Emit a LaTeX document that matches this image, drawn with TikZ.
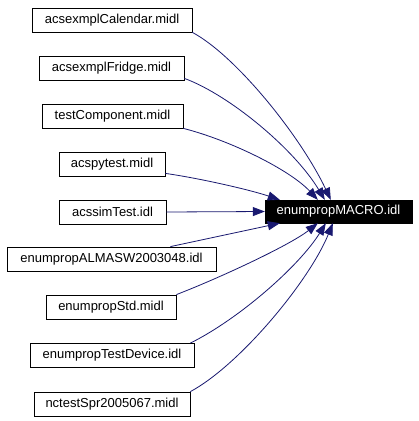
\documentclass[tikz,border=0pt]{standalone}
\usepackage{fontspec}
\setmainfont{Liberation Sans}
\usetikzlibrary{arrows.meta,calc}
\definecolor{edgeblue}{HTML}{191970}
\begin{document}
\begin{tikzpicture}[x=1pt,y=-1pt,
  src/.style={draw=black, line width=0.8pt, rectangle, minimum height=24pt, inner sep=0pt,
    font=\fontsize{13}{15}\selectfont, text=black},
  tgt/.style={draw=black, fill=black, rectangle, minimum height=23pt, inner sep=0pt,
    font=\fontsize{13}{15}\selectfont, text=white},
  edge/.style={draw=edgeblue, line width=0.8pt, -{Triangle[length=12pt,width=9pt]}}]
\useasboundingbox (0,0) rectangle (419,421);
\fill[white] (0,0) rectangle (419,421);

\node[src, minimum width=160pt] (cal) at (112,20) {acsexmplCalendar.midl};
\node[src, minimum width=145pt] (fr) at (111.5,68) {acsexmplFridge.midl};
\node[src, minimum width=141pt] (tc) at (112.5,116) {testComponent.midl};
\node[src, minimum width=106pt] (sp) at (112,164) {acspytest.midl};
\node[src, minimum width=107pt] (ss) at (112.5,212) {acssimTest.idl};
\node[src, minimum width=209pt] (al) at (111.5,259) {enumpropALMASW2003048.idl};
\node[src, minimum width=130pt] (st) at (111,307) {enumpropStd.midl};
\node[src, minimum width=164pt] (td) at (112,355.5) {enumpropTestDevice.idl};
\node[src, minimum width=156pt] (nc) at (112,404) {nctestSpr2005067.midl};
\node[tgt, minimum width=147pt] (t) at (338.5,211.5) {enumpropMACRO.idl};

\draw[edge] (cal.south east) .. controls +(43,23) and +(-31,-65) .. ($(t.north west)+(66,0)$);
\draw[edge] ($(fr.south east)+(0,-2)$) .. controls +(46,17) and +(-30,-50) .. ($(t.north west)+(60,0)$);
\draw[edge] (tc.south east) .. controls +(47,12) and +(-28,-30) .. ($(t.north west)+(53,0)$);
\draw[edge] ($(sp.south east)+(0,-3)$) .. controls +(35,5) and +(-30,-10) .. ($(t.north west)+(15,0)$);
\draw[edge] (ss.east) -- (t.west);
\draw[edge] ($(al.north east)+(-46,0)$) -- ($(t.south west)+(15,0)$);
\draw[edge] (st.north east) .. controls +(44,-17) and +(-28,22) .. ($(t.south west)+(53,0)$);
\draw[edge] ($(td.north east)+(-4,0)$) .. controls +(50,-25) and +(-26,42) .. ($(t.south west)+(61,0)$);
\draw[edge] (nc.north east) .. controls +(50,-27) and +(-23,57) .. ($(t.south west)+(68,0)$);
\end{tikzpicture}
\end{document}
